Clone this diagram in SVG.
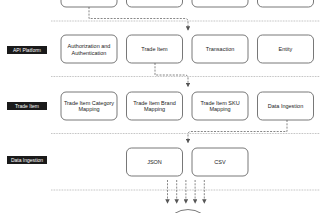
<svg xmlns="http://www.w3.org/2000/svg" width="320" height="213" viewBox="0 0 320 213">
<style>
.box{fill:#fff;stroke:#555;stroke-width:0.8}
.t{font-family:"Liberation Sans",Arial,sans-serif;font-size:5.5px;fill:#222;text-anchor:middle}
.lb{fill:#1a1a1a}
.lt{font-family:"Liberation Sans",Arial,sans-serif;font-size:5px;fill:#fff;text-anchor:middle}
.sep{stroke:#888;stroke-width:0.6;stroke-dasharray:0.8 0.8;fill:none}
.con{stroke:#555;stroke-width:0.7;stroke-dasharray:2 1.3;fill:none}
</style>
<defs>
<marker id="ah" viewBox="0 0 6 6" refX="5" refY="3" markerWidth="4.5" markerHeight="4.5" orient="auto" markerUnits="userSpaceOnUse">
<path d="M0,0 L6,3 L0,6 Z" fill="#555"/>
</marker>
</defs>
<rect width="320" height="213" fill="#fff"/>
<g id="separators">
<line class="sep" x1="51" y1="21" x2="320" y2="21"/>
<line class="sep" x1="51" y1="76.5" x2="320" y2="76.5"/>
<line class="sep" x1="51" y1="133.5" x2="320" y2="133.5"/>
<line class="sep" x1="51" y1="190" x2="320" y2="190"/>
</g>
<g id="top-row">
<rect id="top1" class="box" x="61" y="-21" width="56" height="28" rx="5"/>
<rect id="top2" class="box" x="126.5" y="-21" width="56" height="28" rx="5"/>
<rect id="top3" class="box" x="192" y="-21" width="56" height="28" rx="5"/>
<rect id="top4" class="box" x="257.5" y="-21" width="56" height="28" rx="5"/>
</g>
<g id="label-api">
<rect class="lb" x="7" y="46" width="40" height="8"/>
<text class="lt" x="27" y="51.8">API Platform</text>
</g>
<g id="auth">
<rect class="box" x="61" y="35" width="56" height="28" rx="5"/>
<text class="t" x="89" y="47.9">Authorization and</text>
<text class="t" x="89" y="54.7">Authentication</text>
</g>
<g id="tradeitem">
<rect class="box" x="126.5" y="35" width="56" height="28" rx="5"/>
<text class="t" x="154.5" y="51">Trade Item</text>
</g>
<g id="transaction">
<rect class="box" x="192" y="35" width="56" height="28" rx="5"/>
<text class="t" x="220" y="51">Transaction</text>
</g>
<g id="entity">
<rect class="box" x="257.5" y="35" width="56" height="28" rx="5"/>
<text class="t" x="285.5" y="51">Entity</text>
</g>
<g id="label-trade">
<rect class="lb" x="7" y="102" width="40" height="8"/>
<text class="lt" x="27" y="107.8">Trade Item</text>
</g>
<g id="category">
<rect class="box" x="61" y="92" width="56" height="28" rx="5"/>
<text class="t" x="89" y="104.5">Trade Item Category</text>
<text class="t" x="89" y="111.3">Mapping</text>
</g>
<g id="brand">
<rect class="box" x="126.5" y="92" width="56" height="28" rx="5"/>
<text class="t" x="154.5" y="104.5">Trade Item Brand</text>
<text class="t" x="154.5" y="111.3">Mapping</text>
</g>
<g id="sku">
<rect class="box" x="192" y="92" width="56" height="28" rx="5"/>
<text class="t" x="220" y="104.5">Trade Item SKU</text>
<text class="t" x="220" y="111.3">Mapping</text>
</g>
<g id="dataingestion">
<rect class="box" x="257.5" y="92" width="56" height="28" rx="5"/>
<text class="t" x="285.5" y="108">Data Ingestion</text>
</g>
<g id="label-data">
<rect class="lb" x="7" y="156" width="40" height="8"/>
<text class="lt" x="27" y="161.8">Data Ingestion</text>
</g>
<g id="json">
<rect class="box" x="126.5" y="148" width="56" height="28" rx="5"/>
<text class="t" x="154.5" y="164">JSON</text>
</g>
<g id="csv">
<rect class="box" x="192" y="148" width="56" height="28" rx="5"/>
<text class="t" x="220" y="164">CSV</text>
</g>
<g id="bottom-node">
<path d="M174.5,213.5 A25,25 0 0 1 201.5,213.5" fill="#fff" stroke="#555" stroke-width="0.8"/>
</g>
<g id="connectors">
<path class="con" d="M89,7 V18.5 H185 Q188,18.5 188,21.5 V30" marker-end="url(#ah)"/>
<path class="con" d="M155,63 V75 H185 Q188,75 188,78 V86.5" marker-end="url(#ah)"/>
<path class="con" d="M287,120 V131.5 H191 Q188,131.5 188,134.5 V142.5" marker-end="url(#ah)"/>
<path class="con" d="M167.5,180 V203" marker-end="url(#ah)"/>
<path class="con" d="M176.7,180 V203" marker-end="url(#ah)"/>
<path class="con" d="M185.9,180 V203" marker-end="url(#ah)"/>
<path class="con" d="M195.1,180 V203" marker-end="url(#ah)"/>
<path class="con" d="M204.3,180 V203" marker-end="url(#ah)"/>
</g>
</svg>
